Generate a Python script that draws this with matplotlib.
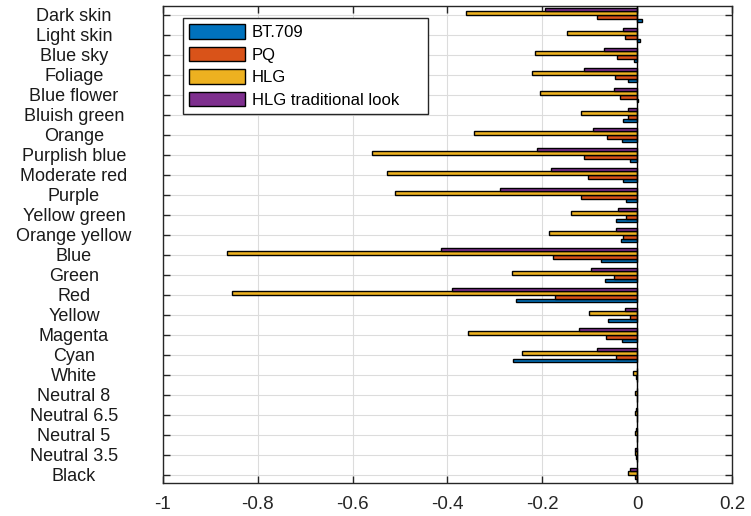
import numpy as np
import matplotlib
matplotlib.use("Agg")
import matplotlib.pyplot as plt
from matplotlib.transforms import blended_transform_factory

categories = ["Dark skin", "Light skin", "Blue sky", "Foliage", "Blue flower",
              "Bluish green", "Orange", "Purplish blue", "Moderate red", "Purple",
              "Yellow green", "Orange yellow", "Blue", "Green", "Red", "Yellow",
              "Magenta", "Cyan", "White", "Neutral 8", "Neutral 6.5", "Neutral 5",
              "Neutral 3.5", "Black"]

series_names = ["BT.709", "PQ", "HLG", "HLG traditional look"]

bt709 = [0.0105, 0.006, -0.008, -0.020, 0.002, -0.031, -0.033, -0.016, -0.031, -0.023,
         -0.044, -0.035, -0.077, -0.069, -0.256, -0.062, -0.033, -0.263,
         -0.001, 0.0, 0.0, 0.0, -0.001, -0.001]
pq = [-0.084, -0.027, -0.042, -0.048, -0.037, -0.020, -0.063, -0.113, -0.105, -0.119,
      -0.023, -0.031, -0.177, -0.050, -0.174, -0.016, -0.067, -0.046,
      -0.002, -0.001, -0.001, -0.001, -0.002, -0.006]
hlg = [-0.360, -0.149, -0.216, -0.221, -0.206, -0.118, -0.345, -0.560, -0.528, -0.510,
       -0.139, -0.187, -0.864, -0.265, -0.853, -0.102, -0.356, -0.242,
       -0.0085, -0.004, -0.004, -0.004, -0.006, -0.019]
hlg_trad = [-0.194, -0.031, -0.071, -0.113, -0.050, -0.020, -0.094, -0.212, -0.181, -0.289,
            -0.040, -0.044, -0.413, -0.098, -0.391, -0.027, -0.122, -0.084,
            -0.001, 0.0, -0.002, -0.002, -0.004, -0.015]

xticks = [-1, -0.8, -0.6, -0.4, -0.2, 0, 0.2]
xticklabels = ["-1", "-0.8", "-0.6", "-0.4", "-0.2", "0", "0.2"]

colors = ["#0072BD", "#D95319", "#EDB120", "#7E2F8E"]

plt.rcParams['font.family'] = ['Liberation Sans', 'DejaVu Sans']

fig = plt.figure(figsize=(7.51, 5.16), dpi=100)
ax = fig.add_axes([162.7 / 751, (516 - 483.3) / 516, (732.3 - 162.7) / 751, (483.3 - 6) / 516])

y = np.arange(len(categories))
h = 0.18
data = [bt709, pq, hlg, hlg_trad]
offsets = [1.5 * h, 0.5 * h, -0.5 * h, -1.5 * h]
handles = []
for vals, off, c, name in zip(data, offsets, colors, series_names):
    b = ax.barh(y + off, vals, height=h, color=c, edgecolor="black", linewidth=1.0,
                label=name, zorder=3)
    handles.append(b)

ax.axvline(0, color="black", linewidth=1.0, zorder=4)

ax.set_xlim(-1, 0.2)
ax.set_ylim(len(categories) - 1 + 0.42, -0.45)
ax.set_xticks(xticks)
ax.set_xticklabels(xticklabels, fontsize=13.5)
ax.set_yticks(y)
ax.set_yticklabels([])

trans = blended_transform_factory(fig.transFigure, ax.transData)
for yi, lab in zip(y, categories):
    ax.text(74 / 751, yi, lab, transform=trans, ha="center", va="center_baseline",
            fontsize=13, color="#1a1a1a")

ax.tick_params(axis="both", direction="in", length=4.7, width=1.0, color="#262626",
               top=True, right=True, labelcolor="#262626")
ax.tick_params(axis="x", pad=9)

ax.grid(True, color="#dcdcdc", linewidth=0.8, zorder=0)
ax.set_axisbelow(True)
for s in ax.spines.values():
    s.set_color("#262626")
    s.set_linewidth(1.0)

leg = ax.legend(handles=handles, labels=series_names, loc="upper left",
                bbox_to_anchor=(0.0351, 0.974, 245 / 569.6, 0), mode="expand",
                borderaxespad=0, fontsize=12,
                frameon=True, fancybox=False, handlelength=3.4, handleheight=0.95,
                labelspacing=0.4, handletextpad=0.4, borderpad=0.35)
leg.get_frame().set_edgecolor("#262626")
leg.get_frame().set_linewidth(1.0)
leg.get_frame().set_alpha(1)

fig.savefig("out.png", dpi=100)
